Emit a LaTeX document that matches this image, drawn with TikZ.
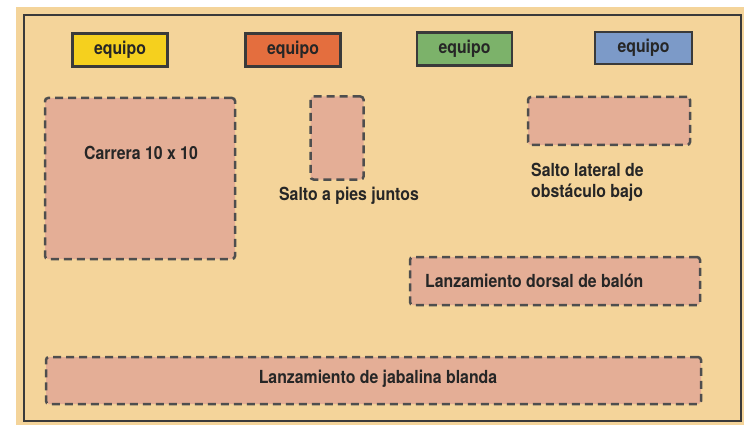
\documentclass[tikz,border=0pt]{standalone}
\usepackage{fontspec}
\setmainfont{TeX Gyre Heros}[FakeStretch=0.88]
\usetikzlibrary{positioning}
\definecolor{beige}{RGB}{244,212,154}
\definecolor{zonepink}{RGB}{228,174,150}
\definecolor{teamyellow}{RGB}{245,208,30}
\definecolor{teamorange}{RGB}{228,110,62}
\definecolor{teamgreen}{RGB}{124,178,106}
\definecolor{teamblue}{RGB}{124,154,200}
\definecolor{pencil}{RGB}{58,58,58}

\begin{document}
\begin{tikzpicture}
[
    x=1pt, y=-1pt, node distance=4pt,
    team_box/.style={rectangle, draw=pencil, line width=2.8pt, inner sep=0pt, minimum width=95pt, minimum height=33pt, text=black!85, font=\fontsize{18}{21}\selectfont\bfseries},
    zone_box/.style={rectangle, draw=pencil!90, fill=zonepink, line width=2.5pt, dash pattern=on 8pt off 5pt, rounded corners=3pt, inner sep=0pt},
    zone_text/.style={inner sep=0pt, text=black!85, font=\fontsize{18}{21}\selectfont\bfseries},
]
    \useasboundingbox (0,0) rectangle (744,425);
    \fill[beige] (16,7) rectangle (744,425);
    \draw[pencil, line width=2.8pt] (24,15) rectangle (741,421);
    \node[team_box, fill=teamyellow] (yellow) at (120,50) {equipo};
    \node[team_box, fill=teamorange] (orange) at (293,50) {equipo};
    \node[team_box, fill=teamgreen] (green) at (464.5,49) {equipo};
    \node[team_box, fill=teamblue, minimum width=97pt, minimum height=32pt] (blue) at (643.5,48) {equipo};
    \node[zone_box, minimum width=190pt, minimum height=161pt] (carrera) at (140,178.5) {};
    \node[zone_text, anchor=base] (carrera_t) at (141,160) {Carrera 10 x 10};
    \node[zone_box, minimum width=53pt, minimum height=83pt] (pies) at (337,138) {};
    \node[zone_text, anchor=base] (pies_t) at (349,200) {Salto a pies juntos};
    \node[zone_box, minimum width=162pt, minimum height=48pt] (lateral) at (609,121) {};
    \node[zone_text, align=left, anchor=north west] (lateral_t) at (531,163) {Salto lateral de\\obstáculo bajo};
    \node[zone_box, minimum width=290pt, minimum height=48pt] (dorsal) at (555,281) {};
    \node[zone_text, anchor=base west] (dorsal_t) at (425,287) {Lanzamiento dorsal de balón};
    \node[zone_box, minimum width=655pt, minimum height=47pt] (jabalina) at (373.5,380.5) {};
    \node[zone_text, anchor=base] (jabalina_t) at (378,383) {Lanzamiento de jabalina blanda};
\end{tikzpicture}
\end{document}
